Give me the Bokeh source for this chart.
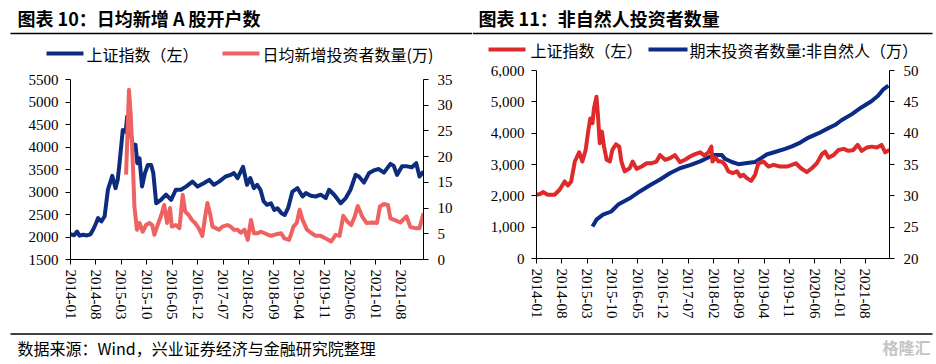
from bokeh.plotting import figure
from bokeh.models import Range1d, LinearAxis, FixedTicker, Label, BoxAnnotation, NumeralTickFormatter
from bokeh.layouts import row, column
from bokeh.embed import file_html
from bokeh.resources import INLINE

# ---------------- data (x = months since 2014-01) ----------------
tick_labels = ["2014-01", "2014-08", "2015-03", "2015-10", "2016-05", "2016-12", "2017-07",
               "2018-02", "2018-09", "2019-04", "2019-11", "2020-06", "2021-01", "2021-08"]
tick_pos = [0, 7, 14, 21, 28, 35, 42, 49, 56, 63, 70, 77, 84, 91]

# Chart 10: SSE index (left axis)
c10_sse_x = [0, 1, 1.8, 2.5, 3.5, 4.5, 5.5, 6.2, 7, 7.6, 8.5, 9.4, 10.3, 11.5, 12.4, 13, 13.5, 14.4,
             15.2, 15.6, 16.3, 17.2, 17.9, 18.4, 19, 19.7, 20.5, 21.3, 22.2, 22.8, 23.6, 24.9, 26.3,
             27.7, 29, 30.4, 31.8, 33.6, 35, 36.8, 38.2, 39.5, 40.9, 42.7, 44.1, 45, 46, 47.5, 48.6,
             49.5, 50.5, 51.4, 52.3, 53.2, 54.1, 55.2, 56.1, 57, 58.1, 59, 59.9, 61.1, 62.5, 63.9,
             64.8, 66.2, 67.5, 68.9, 70.3, 71.2, 72.6, 74.4, 75.8, 77.1, 78.5, 79.4, 80.8, 82.2,
             83.5, 84.9, 86.3, 88.1, 89, 89.9, 91.3, 92.7, 94, 95.2, 96.1, 97.2]
c10_sse_y = [2060, 2040, 2120, 2030, 2050, 2035, 2060, 2160, 2300, 2420, 2345, 2460, 3050, 3360, 3085,
             3270, 3640, 4380, 4340, 4680, 4455, 4010, 4050, 3640, 3750, 3120, 3420, 3600, 3600, 3420,
             2750, 2825, 2940, 2825, 3050, 3050, 3120, 3230, 3120, 3200, 3270, 3160, 3230, 3345, 3380,
             3420, 3310, 3560, 3160, 3310, 3085, 3160, 3050, 2790, 2715, 2750, 2600, 2640, 2530, 2490,
             2640, 3010, 3085, 2900, 2975, 2915, 2900, 2940, 2865, 3050, 2940, 2750, 2865, 3050, 3380,
             3345, 3210, 3420, 3480, 3510, 3430, 3625, 3580, 3380, 3570, 3570, 3550, 3640, 3345, 3455]

# Chart 10: daily average new investors (10k, right axis)
c10_new_x = [15.3, 16.1, 16.6, 17.2, 17.6, 18.3, 19, 19.9, 20.8, 21.7, 22.5, 23.1, 24, 24.9, 25.8,
             26.6, 27.4, 27.9, 29, 30, 30.9, 31.6, 32.5, 33.4, 34.3, 35.3, 36.3, 37.1, 37.7, 38.4,
             39.1, 40, 40.9, 41.8, 43.2, 44.1, 45, 46, 46.9, 47.9, 48.8, 49.7, 50.5, 51.4, 52.5,
             53.8, 55.2, 56.6, 58, 58.9, 60.2, 61.4, 62.3, 63.1, 63.9, 65.1, 66.2, 67.5, 68.9, 70.3,
             71.8, 73, 74.1, 75.1, 76.2, 77.3, 78.3, 79.1, 80.3, 81.5, 83.1, 84.4, 85.2, 86.3, 87.4,
             88.1, 89.5, 90.8, 92.5, 93.6, 94.9, 96.1, 97.2]
c10_new_y = [16.5, 33, 28, 18, 10.3, 5.8, 7.1, 5.4, 6.7, 7.1, 6.7, 4.8, 6.7, 8.4, 10.6, 7.1, 10, 6.4,
             6.7, 6.1, 12.6, 9.3, 8.7, 7.7, 7.1, 6.1, 4.6, 8.4, 11, 9, 6.4, 6.1, 5.8, 6.4, 6.7, 6.4,
             5.8, 5.8, 5.2, 5.8, 3.8, 7.7, 5.1, 5.1, 5.4, 5.0, 4.6, 4.9, 5.1, 4.1, 3.8, 6.4, 7.1, 9.7,
             7.7, 5.8, 5.2, 4.6, 4.6, 4.1, 3.5, 4.8, 4.6, 8.5, 7.4, 6.7, 8.4, 10.4, 8.4, 7.1, 7.2, 7.1,
             10.3, 10.8, 10.6, 8.0, 7.6, 7.2, 8.4, 6.3, 6.1, 6.1, 9]

# Chart 11: SSE index (left axis)
c11_sse_x = [0, 1, 1.8, 3.1, 5, 6.4, 7.8, 8.7, 9.6, 10.6, 11.8, 12.7, 13.6, 14.3, 14.9, 15.5, 15.9,
             16.6, 17, 17.5, 18.1, 18.7, 19.4, 20.3, 21, 22, 22.9, 23.5, 24.4, 25.8, 26.6, 27.7, 29.1,
             30.5, 31.9, 33.2, 34.2, 35.6, 36.9, 38.3, 39.7, 41.1, 42.5, 43.9, 45.3, 46.4, 47.6, 48.4,
             48.7, 49.5, 50.4, 51.3, 52.2, 53.1, 54.3, 55.5, 56.4, 57.3, 58.2, 59.4, 60.5, 61.4, 62.8,
             64.2, 65.6, 67.4, 69.3, 70.7, 71.8, 73.2, 74.8, 76.2, 77.6, 79, 79.9, 80.8, 82.2, 83.6,
             85, 86.3, 87.7, 88.9, 90, 91.4, 92.8, 94.2, 95.5, 96.5, 97.7]
c11_sse_y = [2035, 2060, 2120, 2035, 2035, 2195, 2460, 2330, 2460, 3095, 3390, 3095, 3465, 4050, 4470,
             4315, 4790, 5160, 4580, 3680, 4050, 3570, 3150, 3095, 3465, 3645, 3570, 3095, 2780, 2880,
             3095, 2860, 2935, 3040, 3040, 3095, 3300, 3150, 3200, 3300, 3075, 3150, 3255, 3330, 3390,
             3285, 3390, 3570, 3095, 3220, 3095, 3095, 2990, 2780, 2725, 2780, 2620, 2670, 2565, 2480,
             2670, 3040, 3095, 2935, 2990, 2935, 2935, 2990, 3040, 2880, 2755, 2880, 3040, 3330, 3410,
             3220, 3300, 3465, 3500, 3435, 3465, 3625, 3435, 3540, 3570, 3540, 3625, 3390, 3465]

# Chart 11: non-natural-person investors at period end (10k, right axis)
c11_inst_x = [15.5, 16.6, 18.4, 20.7, 22.6, 25.8, 28.6, 31.4, 34.2, 36.9, 39.7, 42.5, 45.3, 47.1, 49,
              51.3, 52.2, 54.1, 55.9, 57.8, 60.5, 62.4, 63.7, 66, 68.8, 70.7, 73, 75.3, 78.1, 80.8,
              82.6, 84.5, 87.2, 89.9, 92.7, 94.6, 96, 97.4]
c11_inst_y = [25.1, 26.2, 27.0, 27.5, 28.6, 29.6, 30.7, 31.7, 32.6, 33.6, 34.4, 34.9, 35.5, 36.0, 36.5,
              36.5, 35.9, 35.4, 35.05, 35.2, 35.4, 36.1, 36.6, 37.0, 37.5, 37.9, 38.5, 39.3, 40.0, 40.8,
              41.3, 42.1, 43.0, 44.1, 45.1, 46.0, 47.0, 47.6]

# ---------------- styles ----------------
NAVY = "#0D2C7E"
SALMON = "#EF6262"
RED = "#DE2A2A"
NAVY2 = "#0B2B86"
NUM_FONT = "Liberation Serif"
CJK = "Noto Sans CJK SC"


def style_axis(ax, standoff=7):
    ax.axis_line_color = "black"
    ax.axis_line_width = 1
    ax.major_tick_in = 0
    ax.major_tick_out = 5
    ax.major_tick_line_color = "black"
    ax.minor_tick_line_color = None
    ax.major_label_text_font = NUM_FONT
    ax.major_label_text_font_size = "15px"
    ax.major_label_text_color = "black"
    ax.major_label_standoff = standoff


def base_fig(w, h, xr, yr, bl, br, bt, bb):
    p = figure(width=w, height=h, x_range=xr, y_range=yr, output_backend="svg",
               toolbar_location=None, min_border_left=bl, min_border_right=br,
               min_border_top=bt, min_border_bottom=bb)
    p.xgrid.grid_line_color = None
    p.ygrid.grid_line_color = None
    p.outline_line_color = None
    p.background_fill_color = "white"
    p.border_fill_color = "white"
    p.xaxis.ticker = FixedTicker(ticks=tick_pos)
    p.xaxis.major_label_overrides = {t: s for t, s in zip(tick_pos, tick_labels)}
    p.xaxis.major_label_orientation = "vertical"
    style_axis(p.xaxis[0], 5)
    style_axis(p.yaxis[0], 7)
    return p


def canvas(w, h):
    c = figure(width=w, height=h, x_range=Range1d(0, w), y_range=Range1d(0, h),
               x_axis_type=None, y_axis_type=None, output_backend="svg", toolbar_location=None,
               min_border=0, min_border_left=0, min_border_right=0, min_border_top=0,
               min_border_bottom=0)
    c.outline_line_color = None
    c.background_fill_color = "white"
    c.border_fill_color = "white"
    return c


def box(p, left, right, y, half, color):
    p.add_layout(BoxAnnotation(left=left, right=right, top=y + half, bottom=y - half,
                               left_units="screen", right_units="screen",
                               top_units="screen", bottom_units="screen",
                               fill_color=color, fill_alpha=1, line_color=None))


def text(p, x, y, s, size="16px", style="normal", font=CJK, color="black", align="left"):
    p.add_layout(Label(x=x, y=y, x_units="screen", y_units="screen", text=s,
                       text_font=font, text_font_size=size, text_font_style=style,
                       text_color=color, text_baseline="middle", text_align=align))


# ---------------- left header (page x 0..472, y 0..66): sx = X, sy = 66 - Y ----------------
hl = canvas(472, 66)
text(hl, 17, 49, "图表 10：日均新增 A 股开户数", size="18px", style="bold")
box(hl, 10, 472, 33, 0.8, "black")
box(hl, 46, 83, 13, 2, NAVY)
text(hl, 86, 13, "上证指数（左）", size="16px")
box(hl, 222, 259, 13, 2, SALMON)
text(hl, 262, 13, "日均新增投资者数量(万)", size="16px")

# ---------------- chart 10 (page y 66..330; frame x 70..423, y 79..259) ----------------
p1 = base_fig(472, 264, Range1d(0, 97.2), Range1d(1500, 5500), 70, 49, 13, 71)
p1.yaxis.ticker = FixedTicker(ticks=list(range(1500, 5501, 500)))
p1.extra_y_ranges = {"r": Range1d(0, 35)}
ax1r = LinearAxis(y_range_name="r", ticker=FixedTicker(ticks=list(range(0, 36, 5))))
style_axis(ax1r, 9)
p1.add_layout(ax1r, "right")
p1.line(c10_sse_x, c10_sse_y, line_color=NAVY, line_width=4, line_join="round")
p1.line(c10_new_x, c10_new_y, line_color=SALMON, line_width=4, line_join="round", y_range_name="r")

# ---------------- right header (page x 472..936, y 0..62): sx = X - 472, sy = 62 - Y ----------------
hr = canvas(464, 62)
text(hr, 6, 45, "图表 11：非自然人投资者数量", size="18px", style="bold")
box(hr, 0, 460, 29, 0.8, "black")
box(hr, 16, 53, 13, 2, RED)
text(hr, 58, 13, "上证指数（左）", size="16px")
box(hr, 176, 215, 13, 2, NAVY2)
text(hr, 217, 13, "期末投资者数量:非自然人（万）", size="16px")

# ---------------- chart 11 (page y 62..330; frame x 536..889, y 70..258) ----------------
p2 = base_fig(464, 268, Range1d(0, 97.7), Range1d(0, 6000), 64, 47, 8, 72)
p2.yaxis.ticker = FixedTicker(ticks=list(range(0, 6001, 1000)))
p2.yaxis.formatter = NumeralTickFormatter(format="0,0")
p2.extra_y_ranges = {"r": Range1d(20, 50)}
ax2r = LinearAxis(y_range_name="r", ticker=FixedTicker(ticks=list(range(20, 51, 5))))
style_axis(ax2r, 9)
p2.add_layout(ax2r, "right")
p2.line(c11_inst_x, c11_inst_y, line_color=NAVY2, line_width=4, line_join="round", y_range_name="r")
p2.line(c11_sse_x, c11_sse_y, line_color=RED, line_width=4, line_join="round")

# ---------------- footer (page y 330..364): sx = X, sy = 364 - Y ----------------
foot = canvas(936, 34)
box(foot, 10, 932, 30.5, 0.8, "black")
text(foot, 17, 16.5, "数据来源：Wind，兴业证券经济与金融研究院整理", size="16px")
text(foot, 930, 18, "格隆汇", size="16px", style="bold", color="#C4C4C4", align="right")

# nest each chart in its own row so that header frames are not aligned with chart frames
layout = column(row(column(hl, row(p1)), column(hr, row(p2))), foot)
open("out.html", "w").write(file_html(layout, INLINE))
